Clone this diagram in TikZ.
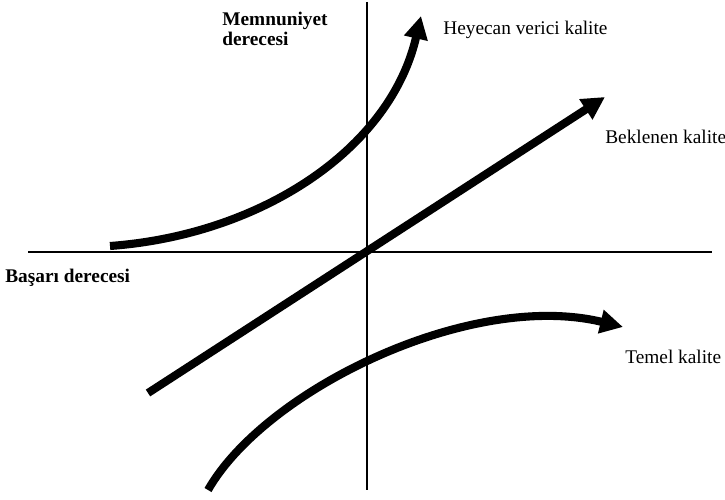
\documentclass[tikz,border=0pt]{standalone}
\usepackage{fontspec}
\setmainfont{Liberation Serif}
\usetikzlibrary{arrows.meta}
\tikzset{
  axisLine/.style={line width=1.1pt},
  qualityCurve/.style={line width=4.6pt, -{Triangle[length=13pt,width=13pt]}},
  curveLabel/.style={font=\fontsize{11}{13}\selectfont, anchor=west, inner sep=0pt},
  axisLabel/.style={font=\fontsize{11}{11.5}\selectfont\bfseries, inner sep=0pt}
}
\begin{document}
\begin{tikzpicture}[x=0.02cm, y=-0.02cm]
  \useasboundingbox (0,0) rectangle (725,500);
  % axes
  \coordinate (xLeft) at (28,252);
  \coordinate (xRight) at (712,252);
  \coordinate (yTop) at (367,2);
  \coordinate (yBottom) at (367,490);
  \draw[axisLine] (xLeft) -- (xRight);
  \draw[axisLine] (yTop) -- (yBottom);
  \node[axisLabel, anchor=north west, align=left] (satisfaction) at (222,12) {Memnuniyet\\derecesi};
  \node[axisLabel, anchor=west] (performance) at (5,278) {Başarı derecesi};
  % curves
  \coordinate (excStart) at (110,246);
  \coordinate (excEnd) at (421,16);
  \draw[qualityCurve] (excStart) .. controls (260,235) and (390,150) .. (excEnd);
  \coordinate (perfStart) at (148,393);
  \coordinate (perfEnd) at (605,97);
  \draw[qualityCurve] (perfStart) -- (perfEnd);
  \coordinate (basicStart) at (208,490);
  \coordinate (basicEnd) at (623,327);
  \draw[qualityCurve] (basicStart) .. controls (265,390) and (470,290) .. (basicEnd);
  % labels
  \node[curveLabel] (excLabel) at (443,30) {Heyecan verici kalite};
  \node[curveLabel] (perfLabel) at (605,137) {Beklenen kalite};
  \node[curveLabel] (basicLabel) at (625,357) {Temel kalite};
\end{tikzpicture}
\end{document}
